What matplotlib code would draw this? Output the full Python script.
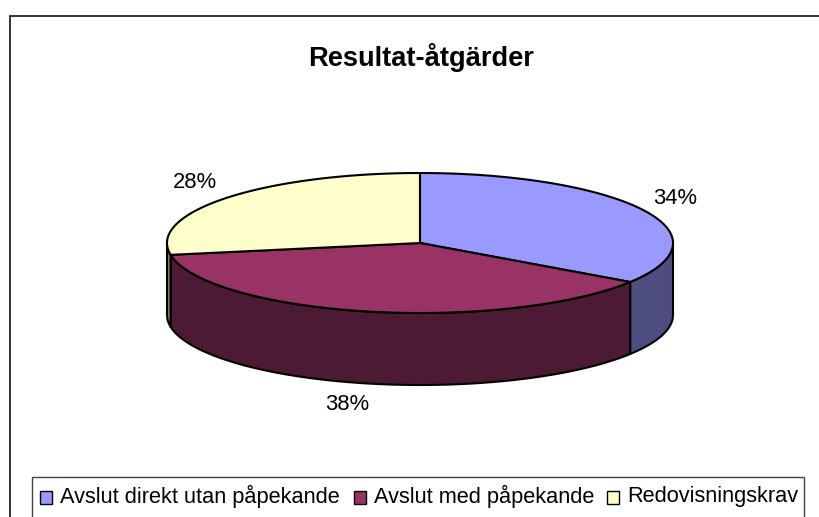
import numpy as np
import matplotlib
matplotlib.use("Agg")
import matplotlib.pyplot as plt
from matplotlib.patches import Polygon, Rectangle

plt.rcParams['font.family'] = ['Liberation Sans', 'DejaVu Sans']

title = "Resultat-åtgärder"
categories = ["Avslut direkt utan påpekande", "Avslut med påpekande", "Redovisningskrav"]
shares = [34.4, 37.9, 27.7]
top_colors = ["#9999FF", "#993366", "#FFFFCC"]
side_colors = ["#4D4D80", "#4D1A33", "#808066"]

W, H = 820, 517
fig = plt.figure(figsize=(W / 100, H / 100), dpi=100)
ax = fig.add_axes([0, 0, 1, 1])
ax.set_xlim(0, W)
ax.set_ylim(H, 0)
ax.axis("off")

cx, cy, rx, ry, depth = 420, 243, 253, 70, 72
LW = 1.5


def rim(a0, a1, n=200):
    """Points on the ellipse; angle is clockwise from the top, in degrees."""
    t = np.radians(np.linspace(a0, a1, n))
    return cx + rx * np.sin(t), cy - ry * np.cos(t)


edges = np.concatenate([[0], np.cumsum(shares)]) * 3.6

# Sides of the disc: only the front half (90..270 deg) is visible
for i, (a0, a1) in enumerate(zip(edges[:-1], edges[1:])):
    lo, hi = max(a0, 90), min(a1, 270)
    if lo >= hi:
        continue
    x, y = rim(lo, hi)
    pts = np.vstack([np.c_[x, y], np.c_[x[::-1], y[::-1] + depth]])
    ax.add_patch(Polygon(pts, closed=True, fc=side_colors[i], ec="black", lw=LW,
                         joinstyle="round", zorder=2))

# Top faces
for i, (a0, a1) in enumerate(zip(edges[:-1], edges[1:])):
    x, y = rim(a0, a1)
    pts = np.vstack([[cx, cy], np.c_[x, y]])
    ax.add_patch(Polygon(pts, closed=True, fc=top_colors[i], ec="black", lw=LW,
                         joinstyle="round", zorder=3))

# Percent labels
label_pos = [(675, 199), (347, 405), (195, 182)]
for share, (lx, ly) in zip(shares, label_pos):
    ax.text(lx, ly, f"{share:.0f}%", ha="center", va="center", fontsize=15.8, color="black")

ax.text(421, 57, title, ha="center", va="center", fontsize=19.6, fontweight="bold")

# Chart frame (cut by the image on the right and bottom)
ax.plot([10.5, 10.5, W], [H, 15.5, 15.5], color="#333333", lw=1.4, clip_on=False, zorder=5,
        solid_joinstyle="miter")

# Legend frame (open at the bottom)
ax.plot([32.5, 32.5, 804.5, 804.5], [H, 476.5, 476.5, H], color="#444444", lw=1.0, zorder=5,
        solid_joinstyle="miter")

legend_x = [40, 354, 607]
for name, col, lx in zip(categories, top_colors, legend_x):
    ax.add_patch(Rectangle((lx, 491), 12.5, 12.5, fc=col, ec="black", lw=1.0, zorder=5))
    ax.text(lx + 20, 496.5, name, ha="left", va="center", fontsize=15.7, color="black", zorder=5)

fig.savefig("out.png", dpi=100, facecolor="white")
